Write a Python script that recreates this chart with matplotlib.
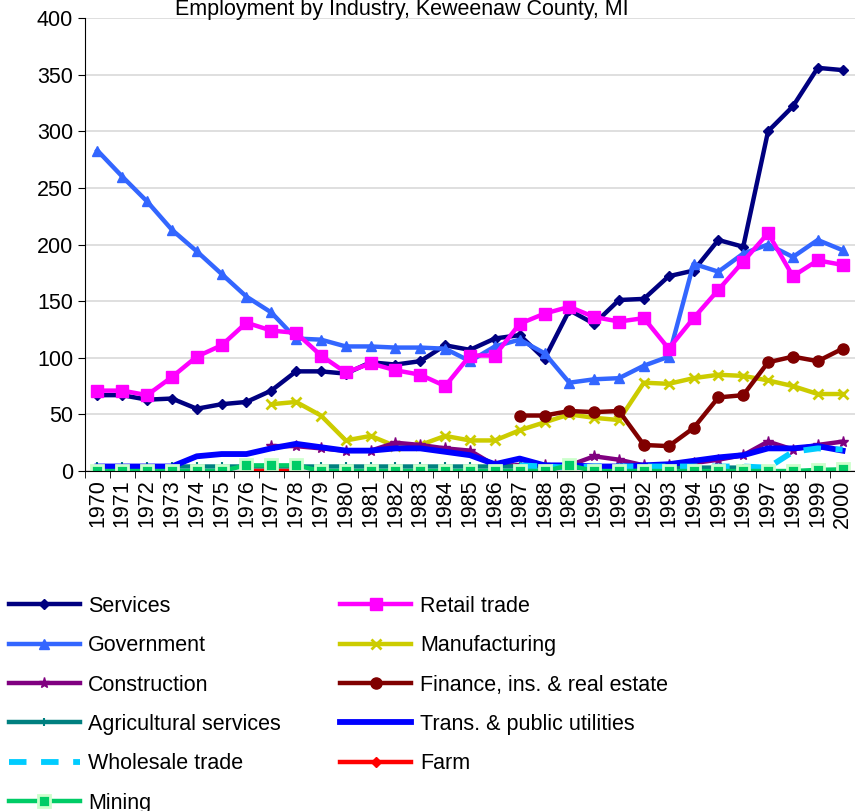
import numpy as np
import matplotlib.pyplot as plt

plt.rcParams['font.family'] = ['Liberation Sans', 'DejaVu Sans']

nan = np.nan
years = list(range(1970, 2001))

services = [67, 67, 63, 64, 55, 59, 61, 71, 88, 88, 86, 96, 94, 97, 111, 107,
            117, 120, 99, 142, 130, 151, 152, 172, 177, 204, 198, 300, 322, 356, 354]
retail = [71, 71, 67, 83, 101, 111, 131, 124, 122, 102, 87, 95, 89, 85, 75, 102,
          102, 130, 139, 145, 136, 132, 135, 108, 135, 160, 185, 210, 172, 186, 182]
government = [283, 260, 238, 213, 194, 174, 154, 140, 117, 116, 110, 110, 109, 109, 108, 97,
              110, 116, 104, 78, 81, 82, 93, 101, 183, 176, 192, 200, 189, 204, 195]
manufacturing = [nan] * 7 + [59, 61, 49, 27, 31, 22, 23, 31, 27,
                             27, 36, 43, 50, 47, 45, 78, 77, 82, 85, 84, 80, 75, 68, 68]
construction = [nan] * 7 + [22, 22, 20, 18, 18, 25, 23, 20, 18,
                            5, 5, 5, 5, 13, 10, 5, 5, 7, 10, 14, 26, 19, 23, 26]
finance = [nan] * 17 + [49, 49, 53, 52, 53, 23, 22, 38, 65, 67, 96, 101, 97, 108]
agricultural = [4] * 16 + [4, 4, 4, 3, 3, 3, 3, 3, 3, 3, 3, 2, nan, nan, nan]
transport = [4, 4, 4, 4, 13, 15, 15, 20, 24, 21, 18, 18, 20, 20, 17, 14,
             6, 11, 5, 5, 4, 4, 5, 6, 9, 12, 14, 20, 20, 22, 18]
wholesale = [nan] * 17 + [5, 4, 3, 4, 4, 4, 4, 4, 4, 4, 3, 17, 20, 19]
farm = [nan] * 6 + [0, 0, 0] + [nan] * 10 + [0] + [nan] * 9 + [0, 0]
mining = [0] * 6 + [5, 5, 5] + [0] * 10 + [5] + [0] * 9 + [1, 1.5]

fig = plt.figure(figsize=(8.55, 8.11), dpi=100)
ax = fig.add_axes([0.0994, 0.4192, 0.9006, 0.5586])

lw = 3.2
h_serv, = ax.plot(years, services, color='#000080', lw=lw, marker='D', ms=5, label='Services')
h_gov, = ax.plot(years, government, color='#3366FF', lw=lw, marker='^', ms=7, label='Government')
h_ret, = ax.plot(years, retail, color='#FF00FF', lw=lw, marker='s', ms=8, label='Retail trade')
h_man, = ax.plot(years, manufacturing, color='#CCCC00', lw=lw, marker='x', ms=7, mew=2,
                 label='Manufacturing')
h_con, = ax.plot(years, construction, color='#800080', lw=lw, marker='*', ms=8,
                 label='Construction')
h_fin, = ax.plot(years, finance, color='#800000', lw=lw, marker='o', ms=8,
                 label='Finance, ins. & real estate')
h_agr, = ax.plot(years, agricultural, color='#008080', lw=lw, marker='+', ms=6, mew=1.5,
                 label='Agricultural services')
h_tra, = ax.plot(years, transport, color='#0000FF', lw=lw + 1, label='Trans. & public utilities')
h_who, = ax.plot(years, wholesale, color='#00CCFF', lw=lw + 1, ls=(0, (3, 2.5)),
                 label='Wholesale trade')
h_farm, = ax.plot(years, farm, color='#FF0000', lw=lw, marker='D', ms=5, label='Farm')
h_min, = ax.plot(years, mining, color='#00CC66', lw=lw, marker='s', ms=8, mec='#CCFFCC',
                 mew=2, label='Mining')

ax.set_xlim(1969.5, 2000.5)
ax.set_ylim(0, 400)
ax.set_yticks(range(0, 401, 50))
ax.set_xticks(years)
ax.set_xticklabels([str(y) for y in years], rotation=90)
ax.set_xticks(np.arange(1969.5, 2001, 1), minor=True)
ax.tick_params(axis='x', which='major', length=0, labelsize=15.5, pad=6)
ax.tick_params(axis='x', which='minor', length=5, direction='out')
ax.tick_params(axis='y', labelsize=15.5, length=5)
ax.grid(axis='y', color='#D9D9D9', lw=1.2)
ax.set_axisbelow(True)
for s in ['top', 'right']:
    ax.spines[s].set_visible(False)

fig.text(0.47, 0.9877, 'Employment by Industry, Keweenaw County, MI', ha='center', va='center',
         fontsize=15.5)

# legend filled column by column
handles = [h_serv, h_gov, h_con, h_agr, h_who, h_min, h_ret, h_man, h_fin, h_tra, h_farm]
fig.legend(handles=handles, loc='upper left', bbox_to_anchor=(0.0, 0.2757), ncol=2,
           frameon=False, fontsize=15.5, handlelength=3.3, labelspacing=0.85,
           columnspacing=2.75, handletextpad=0.4, borderaxespad=0)

fig.savefig('out.png', dpi=100)
